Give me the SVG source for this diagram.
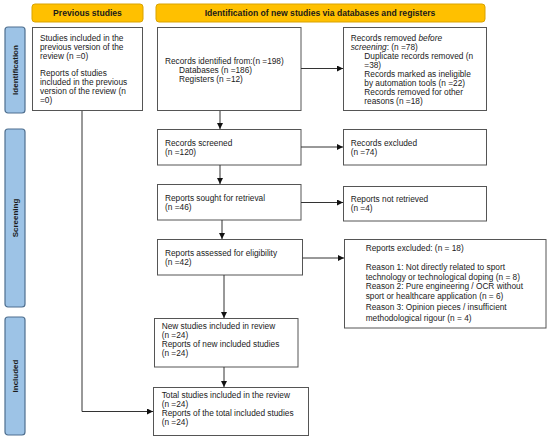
<svg xmlns="http://www.w3.org/2000/svg" width="550" height="441" viewBox="0 0 550 441">
<style>
text{font-family:"Liberation Sans",Arial,sans-serif;font-size:8.3px;fill:#1a1a1a}
.hdr{fill:#FFC000;stroke:#D9A300;stroke-width:1}
.hdrt{font-weight:bold;text-anchor:middle;font-size:8.6px}
.side{fill:#9DC3E6;stroke:#4F6F8F;stroke-width:1.2}
.sidet{font-weight:bold;text-anchor:middle;font-size:8px}
.box{fill:#fff;stroke:#555;stroke-width:1}
.ln{fill:none;stroke:#333;stroke-width:1}
</style>
<defs>
<marker id="ah" viewBox="0 0 10 10" refX="10" refY="5" markerWidth="6" markerHeight="6" markerUnits="userSpaceOnUse" orient="auto">
<path d="M0,0 L10,5 L0,10 z" fill="#111"/>
</marker>
</defs>
<rect width="550" height="441" fill="#fff"/>
<g id="hdr-prev"><rect class="hdr" x="32" y="4" width="111" height="18" rx="3"/><text class="hdrt" x="87.5" y="16.3">Previous studies</text></g>
<g id="hdr-new"><rect class="hdr" x="156" y="4" width="329" height="18" rx="3"/><text class="hdrt" x="320" y="16.3">Identification of new studies via databases and registers</text></g>
<g id="side-ident"><rect class="side" x="5" y="27" width="20" height="86" rx="3"/><text class="sidet" transform="translate(17.8,70) rotate(-90)">Identification</text></g>
<g id="side-screen"><rect class="side" x="5" y="129" width="20" height="178" rx="3"/><text class="sidet" transform="translate(17.8,218) rotate(-90)">Screening</text></g>
<g id="side-incl"><rect class="side" x="5" y="317" width="20" height="118" rx="3"/><text class="sidet" transform="translate(17.8,376) rotate(-90)">Included</text></g>
<g id="prev">
<rect class="box" x="32.5" y="27.5" width="110" height="83"/>
<text x="40" y="40.5">Studies included in the</text>
<text x="40" y="49.5">previous version of the</text>
<text x="40" y="58.5">review (n =0)</text>
<text x="40" y="75.5">Reports of studies</text>
<text x="40" y="84.5">included in the previous</text>
<text x="40" y="93.5">version of the review (n</text>
<text x="40" y="102.5">=0)</text>
</g>
<g id="identified">
<rect class="box" x="157.5" y="27.5" width="143.5" height="83"/>
<text x="165" y="63.5">Records identified from:(n =198)</text>
<text x="179" y="72.5">Databases (n =186)</text>
<text x="179" y="81.5">Registers (n =12)</text>
</g>
<g id="removed">
<rect class="box" x="343.5" y="27.5" width="143" height="83"/>
<text x="350.7" y="40.5">Records removed <tspan font-style="italic">before</tspan></text>
<text x="350.7" y="49.5"><tspan font-style="italic">screening</tspan>: (n =78)</text>
<text x="364.3" y="58.5">Duplicate records removed (n</text>
<text x="364.3" y="67.5">=38)</text>
<text x="364.3" y="76.5">Records marked as ineligible</text>
<text x="364.3" y="85.5">by automation tools (n =22)</text>
<text x="364.3" y="94.5">Records removed for other</text>
<text x="364.3" y="103.5">reasons (n =18)</text>
</g>
<g id="screened">
<rect class="box" x="157.5" y="129.5" width="143.5" height="35.5"/>
<text x="165" y="146">Records screened</text>
<text x="165" y="155">(n =120)</text>
</g>
<g id="excluded">
<rect class="box" x="343.5" y="129.5" width="143" height="35.5"/>
<text x="350.7" y="146">Records excluded</text>
<text x="350.7" y="155">(n =74)</text>
</g>
<g id="sought">
<rect class="box" x="157.5" y="184.5" width="143.5" height="35.5"/>
<text x="165" y="201">Reports sought for retrieval</text>
<text x="165" y="210">(n =46)</text>
</g>
<g id="notretrieved">
<rect class="box" x="343.5" y="186.5" width="143" height="34.5"/>
<text x="350.7" y="202.3">Reports not retrieved</text>
<text x="350.7" y="211.3">(n =4)</text>
</g>
<g id="assessed">
<rect class="box" x="157.5" y="239.5" width="145" height="35.5"/>
<text x="165" y="255.5">Reports assessed for eligibility</text>
<text x="165" y="264.5">(n =42)</text>
</g>
<g id="repexcluded">
<rect class="box" x="344.5" y="239.5" width="201.5" height="88.5"/>
<text x="365.7" y="250.7">Reports excluded: (n = 18)</text>
<text x="365.7" y="270.3">Reason 1: Not directly related to sport</text>
<text x="365.7" y="279.8">technology or technological doping (n = 8)</text>
<text x="365.7" y="289.3">Reason 2: Pure engineering / OCR without</text>
<text x="365.7" y="299">sport or healthcare application (n = 6)</text>
<text x="365.7" y="309.8">Reason 3: Opinion pieces / insufficient</text>
<text x="365.7" y="320.5">methodological rigour (n = 4)</text>
</g>
<g id="newincl">
<rect class="box" x="154.5" y="318.5" width="143.5" height="48.5"/>
<text x="161.7" y="329">New studies included in review</text>
<text x="161.7" y="338">(n =24)</text>
<text x="161.7" y="347">Reports of new included studies</text>
<text x="161.7" y="356">(n =24)</text>
</g>
<g id="total">
<rect class="box" x="153.5" y="387.5" width="155" height="48"/>
<text x="161.7" y="397.5">Total studies included in the review</text>
<text x="161.7" y="406.5">(n =24)</text>
<text x="161.7" y="415.5">Reports of the total included studies</text>
<text x="161.7" y="424.5">(n =24)</text>
</g>
<g id="connectors">
<line class="ln" x1="220" y1="111" x2="220" y2="129" marker-end="url(#ah)"/>
<line class="ln" x1="220" y1="165" x2="220" y2="184" marker-end="url(#ah)"/>
<line class="ln" x1="222" y1="220" x2="222" y2="239" marker-end="url(#ah)"/>
<line class="ln" x1="224" y1="275" x2="224" y2="318" marker-end="url(#ah)"/>
<line class="ln" x1="224" y1="367" x2="224" y2="387" marker-end="url(#ah)"/>
<line class="ln" x1="301" y1="68.5" x2="343" y2="68.5" marker-end="url(#ah)"/>
<line class="ln" x1="301" y1="147" x2="343" y2="147" marker-end="url(#ah)"/>
<line class="ln" x1="301" y1="202.5" x2="343" y2="202.5" marker-end="url(#ah)"/>
<line class="ln" x1="302.5" y1="258" x2="344" y2="258" marker-end="url(#ah)"/>
<polyline class="ln" points="82,111 82,411.5 153,411.5" marker-end="url(#ah)"/>
</g>
</svg>
